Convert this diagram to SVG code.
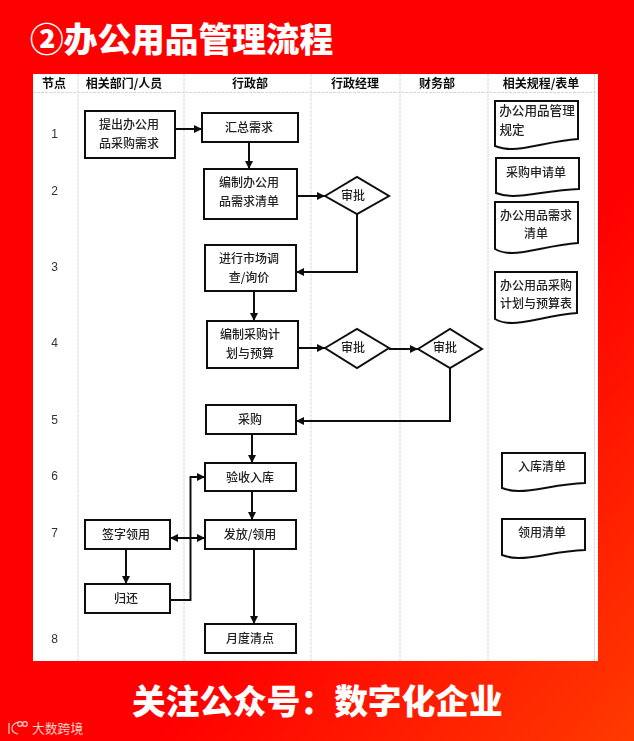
<svg xmlns="http://www.w3.org/2000/svg" width="634" height="741" viewBox="0 0 634 741">
<defs>
<linearGradient id="bg" x1="0" y1="0" x2="1" y2="1"><stop offset="0.62" stop-color="#ff0000"/><stop offset="1" stop-color="#ff3a00"/></linearGradient>
<marker id="ah" markerUnits="userSpaceOnUse" markerWidth="9" markerHeight="9" refX="8" refY="4" orient="auto-start-reverse"><path d="M0 0L8 4L0 8Z" fill="#111"/></marker>
<filter id="soft" x="-2%" y="-2%" width="104%" height="104%"><feGaussianBlur stdDeviation="0.4"/></filter>
<style>
.big{font-family:"Noto Sans CJK SC","Liberation Sans",sans-serif;font-weight:900;font-size:33.7px;fill:#fff}
.t{font-family:"Noto Sans CJK SC","Liberation Sans",sans-serif;font-size:12px;font-weight:500;fill:#222;text-anchor:middle}
.h{font-weight:700;fill:#111}
.n{font-family:"Liberation Sans",sans-serif;font-size:12px;fill:#333;text-anchor:middle}
.b{fill:#fff;stroke:#111;stroke-width:2}
.c{fill:none;stroke:#111;stroke-width:2}
.g{fill:none;stroke:#d8d8d8;stroke-width:1;stroke-dasharray:3 1}
</style>
</defs>
<rect width="634" height="741" fill="url(#bg)"/>
<text class="big" x="30" y="52">②办公用品管理流程</text>
<rect x="33" y="74" width="565" height="587" fill="#fff"/>
<g filter="url(#soft)">
<g id="grid">
<path class="g" d="M33 92.500H598M78 74V661M184 74V661M311 74V661M400 74V661M488 74V661M594.500 74V661"/>
</g>
<g id="headers">
<text class="t h" x="54" y="88">节点</text>
<text class="t h" x="124" y="88">相关部门/人员</text>
<text class="t h" x="250" y="88">行政部</text>
<text class="t h" x="355" y="88">行政经理</text>
<text class="t h" x="437" y="88">财务部</text>
<text class="t h" x="541" y="88">相关规程/表单</text>
</g>
<g id="numbers">
<text class="n" x="54.500" y="138">1</text>
<text class="n" x="54.500" y="195">2</text>
<text class="n" x="54.500" y="271">3</text>
<text class="n" x="54.500" y="347">4</text>
<text class="n" x="54.500" y="424">5</text>
<text class="n" x="54.500" y="480">6</text>
<text class="n" x="54.500" y="537">7</text>
<text class="n" x="54.500" y="643">8</text>
</g>
<g id="connectors">
<path class="c" marker-end="url(#ah)" d="M175 129H202"/>
<path class="c" marker-end="url(#ah)" d="M249 142V169"/>
<path class="c" marker-end="url(#ah)" d="M297 196H325"/>
<path class="c" marker-end="url(#ah)" d="M357 214V272H296"/>
<path class="c" marker-end="url(#ah)" d="M254 291V321"/>
<path class="c" marker-end="url(#ah)" d="M298 348H325"/>
<path class="c" marker-end="url(#ah)" d="M389 349H418"/>
<path class="c" marker-end="url(#ah)" d="M450 368V421H296"/>
<path class="c" marker-end="url(#ah)" d="M252 434V463"/>
<path class="c" marker-end="url(#ah)" d="M252 491V520"/>
<path class="c" marker-end="url(#ah)" d="M254 549V624"/>
<path class="c" marker-start="url(#ah)" marker-end="url(#ah)" d="M170 538H205"/>
<path class="c" marker-end="url(#ah)" d="M126 549V584"/>
<path class="c" marker-end="url(#ah)" d="M170 600H190.500V477H205"/>
</g>
<g id="n-request"><rect class="b" x="85" y="111" width="90" height="47"/><text class="t" x="129" y="129">提出办公用</text><text class="t" x="129" y="148">品采购需求</text></g>
<g id="n-collect"><rect class="b" x="202" y="113" width="96" height="29"/><text class="t" x="249" y="132">汇总需求</text></g>
<g id="n-list"><rect class="b" x="204" y="169" width="93" height="50"/><text class="t" x="249" y="187">编制办公用</text><text class="t" x="249" y="206">品需求清单</text></g>
<g id="n-market"><rect class="b" x="205" y="245" width="91" height="46"/><text class="t" x="249" y="263">进行市场调</text><text class="t" x="249" y="282">查/询价</text></g>
<g id="n-plan"><rect class="b" x="207" y="321" width="91" height="47"/><text class="t" x="250" y="339">编制采购计</text><text class="t" x="250" y="358">划与预算</text></g>
<g id="n-buy"><rect class="b" x="206" y="405" width="90" height="29"/><text class="t" x="250" y="424">采购</text></g>
<g id="n-stock"><rect class="b" x="205" y="463" width="91" height="28"/><text class="t" x="250" y="482">验收入库</text></g>
<g id="n-issue"><rect class="b" x="205" y="520" width="91" height="29"/><text class="t" x="250" y="539">发放/领用</text></g>
<g id="n-month"><rect class="b" x="205" y="624" width="91" height="29"/><text class="t" x="250" y="643">月度清点</text></g>
<g id="n-sign"><rect class="b" x="85" y="520" width="85" height="29"/><text class="t" x="126" y="539">签字领用</text></g>
<g id="n-return"><rect class="b" x="85" y="584" width="85" height="29"/><text class="t" x="126" y="603">归还</text></g>
<g id="n-approve1"><path class="b" d="M325 196L357 177L389 196L357 214Z"/><text class="t" x="353" y="200">审批</text></g>
<g id="n-approve2"><path class="b" d="M325 348L357 329L389 348L357 368Z"/><text class="t" x="353" y="352">审批</text></g>
<g id="n-approve3"><path class="b" d="M418 349L450 329L482 349L450 368Z"/><text class="t" x="445" y="352">审批</text></g>
<g id="d-rule"><path class="b" d="M495 101H578V139C550 141 530 149 512 149C505 149 500 148 495 146Z"/><text class="t" x="537" y="115" style="font-size:12.600px">办公用品管理</text><text class="t" x="512" y="134" style="font-size:12.600px">规定</text></g>
<g id="d-apply"><path class="b" d="M496 158H579V189C551 190 531 196 513 196C506 196 501 195 496 193Z"/><text class="t" x="536" y="177">采购申请单</text></g>
<g id="d-need"><path class="b" d="M495 202H578V243C550 245 530 253 512 253C505 253 500 252 495 249Z"/><text class="t" x="536" y="220">办公用品需求</text><text class="t" x="536" y="238">清单</text></g>
<g id="d-budget"><path class="b" d="M495 272H577V313C549 315 529 323 512 323C505 323 500 322 495 319Z"/><text class="t" x="536" y="290">办公用品采购</text><text class="t" x="536" y="308">计划与预算表</text></g>
<g id="d-in"><path class="b" d="M502 453H585V483C557 484 537 491 519 491C512 491 507 490 502 488Z"/><text class="t" x="542" y="471">入库清单</text></g>
<g id="d-use"><path class="b" d="M502 519H585V550C557 551 537 558 519 558C512 558 507 557 502 555Z"/><text class="t" x="542" y="537">领用清单</text></g>
</g>
<text class="big" x="132" y="714">关注公众号：数字化企业</text>
<g id="watermark" fill="none" stroke="#ffd0c8" stroke-width="1.2">
<path d="M9 723V734M18 722C10 725 10 732 18 734"/>
<circle cx="20" cy="724" r="2.300"/><circle cx="25" cy="724" r="2.300"/>
<text x="32" y="733" font-family="Noto Sans CJK SC,sans-serif" font-size="12.800" fill="#ffd0c8" stroke="none">大数跨境</text>
</g>
</svg>
